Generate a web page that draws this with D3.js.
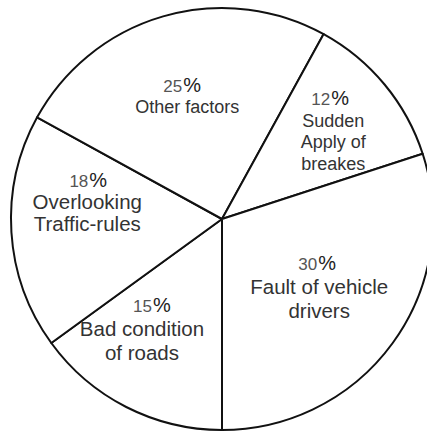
<!DOCTYPE html>
<html>
<head>
<meta charset="utf-8">
<script src="https://cdn.jsdelivr.net/npm/d3@7"></script>
<style>
  html, body { margin: 0; padding: 0; background: #fff; }
  svg { display: block; }
</style>
</head>
<body>
<svg id="chart" width="427" height="433"></svg>
<script>
// ---- data ----
const categories = ["Bad condition of roads", "Overlooking Traffic-rules", "Other factors", "Sudden Apply of breakes", "Fault of vehicle drivers"];
const values = [15, 18, 25, 12, 30];
const labelLines = [
  ["Bad condition", "of roads"],
  ["Overlooking", "Traffic-rules"],
  ["Other factors"],
  ["Sudden", "Apply of", "breakes"],
  ["Fault of vehicle", "drivers"]
];

// ---- layout / style (not data) ----
const W = 427, H = 433;
const cx = 222, cy = 219, R = 211;
const labelR = 130;
const labelStyle = [
  { dx: -21, dy: -23, size: 20.5, lead: 24, pdx: 10 },
  { dx: -5,  dy: -40, size: 20.5, lead: 22, pdx: 1 },
  { dx: 1.5, dy: -2,  size: 18,   lead: 21, pdx: -5 },
  { dx: 11,  dy: -31, size: 18,   lead: 21.5, pdx: -3 },
  { dx: -8,  dy: -25, size: 20.5, lead: 24, pdx: -2 }
];

const svg = d3.select("#chart");
const g = svg.append("g").attr("transform", `translate(${cx},${cy})`);

const pie = d3.pie().sort(null).value(d => d.value)
  .startAngle(Math.PI).endAngle(3 * Math.PI);
const data = categories.map((c, i) => ({ name: c, value: values[i], lines: labelLines[i], style: labelStyle[i] }));
const arcs = pie(data);

const arc = d3.arc().innerRadius(0).outerRadius(R);
const labelArc = d3.arc().innerRadius(labelR).outerRadius(labelR);

g.selectAll("path.slice")
  .data(arcs)
  .enter().append("path")
  .attr("class", "slice")
  .attr("d", arc)
  .attr("fill", "#fff")
  .attr("stroke", "#111")
  .attr("stroke-width", 2)
  .attr("stroke-linejoin", "round");

const font = "'Liberation Sans', Arial, Helvetica, sans-serif";

const labels = g.selectAll("g.label")
  .data(arcs)
  .enter().append("g")
  .attr("class", "label")
  .attr("transform", d => {
    const [x, y] = labelArc.centroid(d);
    return `translate(${x + d.data.style.dx},${y + d.data.style.dy})`;
  });

// percent line
labels.append("text")
  .attr("x", d => d.data.style.pdx)
  .attr("y", 0)
  .attr("text-anchor", "middle")
  .style("font-family", font)
  .each(function(d) {
    const t = d3.select(this);
    t.append("tspan").text(d.data.value).attr("fill", "#555").style("font-size", "17px");
    t.append("tspan").text("%").attr("fill", "#222").style("font-size", "20px").attr("dx", 1);
  });

// text lines
labels.each(function(d) {
  const sel = d3.select(this);
  d.data.lines.forEach((ln, j) => {
    sel.append("text")
      .attr("x", 0)
      .attr("y", (j + 1) * d.data.style.lead)
      .attr("text-anchor", "middle")
      .attr("fill", "#333")
      .style("font-family", font)
      .style("font-size", d.data.style.size + "px")
      .text(ln);
  });
});
</script>
</body>
</html>
